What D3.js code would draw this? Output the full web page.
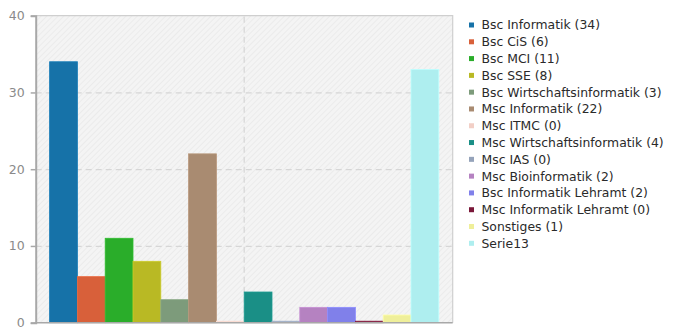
<!DOCTYPE html>
<html><head><meta charset="utf-8">
<script src="https://cdn.jsdelivr.net/npm/d3@7"></script>
<style>
html,body{margin:0;padding:0;background:#fff;}
svg{display:block;}
</style></head>
<body>
<svg id="chart" width="674" height="334"></svg>
<script>
const seriesNames = ["Bsc Informatik (34)","Bsc CiS (6)","Bsc MCI (11)","Bsc SSE (8)","Bsc Wirtschaftsinformatik (3)","Msc Informatik (22)","Msc ITMC (0)","Msc Wirtschaftsinformatik (4)","Msc IAS (0)","Msc Bioinformatik (2)","Bsc Informatik Lehramt (2)","Msc Informatik Lehramt (0)","Sonstiges (1)","Serie13"];
const seriesValues = [34,6,11,8,3,22,0,4,0,2,2,0,1,33];
const seriesColors = ["#1672a8","#d8603a","#2aad2a","#b9b924","#7d9b7b","#a98b71","#f2cfc6","#1a8f86","#95a3ba","#b582c1","#8080ea","#7a1839","#efef9a","#aeeeef"];
const categories = [""];
const yTicks = [0,10,20,30,40];

const svg = d3.select("#chart");
const L = 35.7, R = 452.7, T = 15.7, B = 322.7;

const defs = svg.append("defs");
const pat = defs.append("pattern").attr("id","hatch").attr("patternUnits","userSpaceOnUse")
  .attr("width",4).attr("height",4).attr("patternTransform","rotate(45)");
pat.append("rect").attr("width",4).attr("height",4).attr("fill","#f4f4f4");
pat.append("line").attr("x1",0).attr("y1",0).attr("x2",0).attr("y2",4).attr("stroke","#e9e9e9").attr("stroke-width",1.5);

const y = d3.scaleLinear().domain([0,40]).range([B,T]);
const x0 = d3.scaleBand().domain(categories).range([L,R]).padding(0);
const x1 = d3.scaleBand().domain(seriesNames).range([0,x0.bandwidth()]).paddingInner(0).paddingOuter(0.5);

svg.append("rect").attr("x",L).attr("y",T).attr("width",R-L).attr("height",B-T).attr("fill","url(#hatch)");

const gy = svg.append("g").attr("transform",`translate(${L},0)`)
  .call(d3.axisLeft(y).tickValues(yTicks.slice(1,-1)).tickSize(-(R-L)).tickFormat(""));
gy.select(".domain").remove();
gy.selectAll("line").attr("stroke","#d6d6d6").attr("stroke-dasharray","6,4").attr("stroke-width",1.2);

const gx = svg.append("g").attr("transform",`translate(0,${B})`)
  .call(d3.axisBottom(x0).tickSize(-(B-T)).tickFormat(""));
gx.select(".domain").remove();
gx.selectAll("line").attr("stroke","#d6d6d6").attr("stroke-dasharray","6,4").attr("stroke-width",1.2);

svg.append("path").attr("d",`M${L},${T}H${R}V${B}`).attr("fill","none").attr("stroke","#cfcfcf").attr("stroke-width",1.2);

const data = seriesNames.map((n,i)=>({name:n,value:seriesValues[i],color:seriesColors[i]}));
const gb = svg.append("g").attr("transform",`translate(${x0("")},0)`);
gb.selectAll("rect").data(data).enter().append("rect")
  .attr("x",d=>x1(d.name))
  .attr("width",x1.bandwidth())
  .attr("y",d=>d.value>0?y(d.value):B-1.5)
  .attr("height",d=>d.value>0?B-y(d.value):1.5)
  .attr("fill",d=>d.color)
  .attr("stroke",d=>d3.color(d.color).brighter(0.25))
  .attr("stroke-width",0.8);

const ga = svg.append("g").attr("transform",`translate(${L},0)`)
  .call(d3.axisLeft(y).tickValues(yTicks).tickSize(5).tickPadding(6).tickFormat(d3.format("d")));
ga.select(".domain").attr("stroke","#a8a8a8").attr("stroke-width",2);
ga.selectAll("line").attr("stroke","#a8a8a8").attr("stroke-width",1.5);
ga.selectAll("text").attr("fill","#8a8a8a").attr("font-family","DejaVu Sans").attr("font-size","12.5px");

svg.append("line").attr("x1",L-1).attr("x2",R).attr("y1",B).attr("y2",B).attr("stroke","#a8a8a8").attr("stroke-width",1.5);

const lg = svg.append("g");
const ly = d3.scalePoint().domain(seriesNames).range([25,243.3]);
const items = lg.selectAll("g").data(data).enter().append("g").attr("transform",d=>`translate(0,${ly(d.name)})`);
items.append("rect").attr("x",469).attr("y",-2.5).attr("width",5).attr("height",5).attr("fill",d=>d.color);
items.append("text").attr("x",481.5).attr("y",0).attr("dy","0.36em")
  .attr("font-family","DejaVu Sans").attr("font-size","12.4px").attr("fill","#2a2a2a").text(d=>d.name);
</script>
</body></html>
